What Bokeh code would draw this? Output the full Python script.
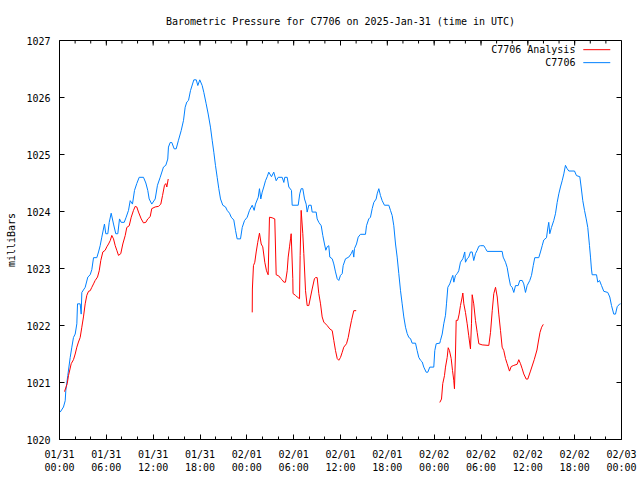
from bokeh.plotting import figure
from bokeh.models import Range1d, FixedTicker, Label
from bokeh.embed import file_html
from bokeh.resources import INLINE
import numpy as np

# hours since 2025-01-31 00:00 UTC
obs_hours = [0.09, 0.51, 0.73, 0.81, 1.06, 1.37, 1.58, 1.79, 2.01, 2.22, 2.31, 2.65, 2.78, 2.86, 3.29, 3.63, 3.93, 4.14, 4.36, 4.78,
             5.00, 5.21, 5.42, 5.76, 5.93, 6.19, 6.37, 6.62, 6.92, 7.21, 7.47, 7.69, 7.90, 8.29, 8.54, 8.84, 9.06, 9.35, 9.61, 9.90,
             10.21, 10.76, 11.06, 11.31, 11.49, 11.82, 12.26, 12.55, 12.90, 13.32, 13.62, 13.87, 13.96, 14.18, 14.39, 14.69, 14.95, 15.24, 15.59, 15.89,
             16.10, 16.31, 16.53, 16.78, 17.21, 17.52, 17.72, 17.97, 18.28, 18.49, 18.79, 19.05, 19.34, 19.56, 19.77, 19.98, 20.20, 20.41, 20.63, 20.92,
             21.27, 21.48, 21.78, 22.00, 22.33, 22.55, 22.76, 23.19, 23.41, 23.70, 24.05, 24.34, 24.69, 24.94, 25.11, 25.46, 25.62, 25.79, 25.97, 26.17,
             26.39, 26.61, 26.81, 27.16, 27.45, 27.76, 28.02, 28.53, 28.74, 28.86, 29.17, 29.38, 29.72, 29.81, 30.58, 30.78, 30.96, 31.17, 31.39, 31.60,
             31.73, 31.94, 32.24, 32.37, 32.88, 33.01, 33.22, 33.53, 33.73, 33.95, 34.12, 34.29, 34.50, 34.63, 34.94, 35.14, 35.36, 35.58, 35.78, 36.00,
             36.22, 36.34, 36.64, 37.06, 37.37, 37.57, 37.70, 37.79, 38.05, 38.27, 38.56, 39.20, 39.33, 39.62, 39.84, 40.06, 40.27, 40.57, 40.70, 40.91,
             41.12, 41.34, 41.63, 42.19, 42.40, 42.62, 42.83, 43.05, 43.26, 43.47, 43.69, 43.90, 44.11, 44.33, 44.54, 44.75, 44.97, 45.18, 45.61, 45.82,
             46.03, 46.25, 46.47, 46.67, 46.98, 47.18, 47.44, 47.95, 48.08, 48.26, 48.72, 48.81, 49.03, 49.23, 49.45, 49.58, 49.75, 50.00, 50.22, 50.39,
             50.52, 50.73, 50.95, 51.15, 51.37, 51.67, 51.92, 52.01, 52.23, 52.43, 52.65, 52.87, 53.07, 53.29, 53.51, 53.72, 53.93, 54.36, 54.58, 54.79,
             56.71, 56.84, 57.14, 57.35, 57.56, 57.78, 57.99, 58.20, 58.42, 58.76, 58.97, 59.28, 59.48, 59.70, 59.91, 60.25, 60.47, 60.69, 60.89, 61.40,
             61.62, 61.84, 62.04, 62.39, 62.56, 62.68, 62.81, 63.03, 63.32, 63.54, 63.76, 63.97, 64.18, 64.40, 64.61, 64.82, 65.04, 65.25, 65.98, 66.23,
             66.66, 66.83, 67.04, 67.26, 67.48, 67.68, 67.90, 68.03, 68.15, 68.24, 68.80, 68.96, 69.18, 69.44, 69.73, 70.24, 70.50, 70.72, 71.01, 71.23,
             71.45, 71.78, 71.87]
obs_mb = [1020.48, 1020.57, 1020.68, 1020.86, 1021.12, 1021.44, 1021.62, 1021.79, 1021.85, 1022.03, 1022.38, 1022.38, 1022.20, 1022.58, 1022.67, 1022.85, 1022.89, 1022.98, 1023.19, 1023.19,
          1023.29, 1023.40, 1023.55, 1023.78, 1023.61, 1023.61, 1023.81, 1023.97, 1023.78, 1023.61, 1023.61, 1023.87, 1023.81, 1023.81, 1023.90, 1024.02, 1024.19, 1024.13, 1024.37, 1024.49,
          1024.60, 1024.60, 1024.50, 1024.37, 1024.22, 1024.13, 1024.22, 1024.46, 1024.60, 1024.78, 1024.81, 1024.92, 1025.13, 1025.21, 1025.21, 1025.10, 1025.10, 1025.25, 1025.42, 1025.60,
          1025.83, 1025.92, 1025.95, 1026.12, 1026.31, 1026.31, 1026.21, 1026.31, 1026.21, 1026.09, 1025.89, 1025.71, 1025.48, 1025.25, 1025.04, 1024.81, 1024.60, 1024.40, 1024.22, 1024.11,
          1024.08, 1024.02, 1023.97, 1023.90, 1023.85, 1023.67, 1023.52, 1023.52, 1023.72, 1023.84, 1023.90, 1024.02, 1024.11, 1024.02, 1024.13, 1024.25, 1024.40, 1024.22, 1024.34, 1024.43,
          1024.54, 1024.61, 1024.69, 1024.61, 1024.69, 1024.54, 1024.60, 1024.60, 1024.51, 1024.60, 1024.60, 1024.43, 1024.37, 1024.11, 1024.11, 1024.31, 1024.40, 1024.40, 1024.22, 1024.13,
          1023.99, 1024.11, 1024.11, 1023.99, 1023.99, 1023.87, 1023.81, 1023.75, 1023.58, 1023.43, 1023.32, 1023.38, 1023.40, 1023.20, 1023.17, 1023.08, 1022.94, 1022.82, 1022.79, 1022.88,
          1022.91, 1023.05, 1023.17, 1023.20, 1023.26, 1023.32, 1023.20, 1023.35, 1023.43, 1023.55, 1023.60, 1023.60, 1023.75, 1023.87, 1023.90, 1024.05, 1024.16, 1024.22, 1024.31, 1024.40,
          1024.28, 1024.19, 1024.11, 1024.11, 1024.02, 1023.93, 1023.75, 1023.43, 1023.20, 1022.91, 1022.61, 1022.38, 1022.15, 1021.97, 1021.86, 1021.79, 1021.77, 1021.69, 1021.69, 1021.56,
          1021.44, 1021.39, 1021.36, 1021.27, 1021.18, 1021.18, 1021.27, 1021.27, 1021.56, 1021.68, 1021.69, 1021.74, 1021.85, 1022.03, 1022.18, 1022.38, 1022.67, 1022.73, 1022.82, 1022.88,
          1022.76, 1022.88, 1022.91, 1022.96, 1023.11, 1023.17, 1023.29, 1023.11, 1023.17, 1023.20, 1023.29, 1023.29, 1023.14, 1023.26, 1023.32, 1023.39, 1023.40, 1023.40, 1023.35, 1023.30,
          1023.30, 1023.20, 1023.11, 1023.02, 1022.85, 1022.70, 1022.67, 1022.58, 1022.70, 1022.70, 1022.79, 1022.79, 1022.73, 1022.58, 1022.70, 1022.79, 1022.88, 1023.05, 1023.19, 1023.19,
          1023.29, 1023.40, 1023.50, 1023.54, 1023.71, 1023.81, 1023.61, 1023.72, 1023.84, 1023.96, 1024.16, 1024.31, 1024.43, 1024.54, 1024.66, 1024.81, 1024.75, 1024.71, 1024.71, 1024.63,
          1024.61, 1024.43, 1024.19, 1024.02, 1023.87, 1023.72, 1023.40, 1023.20, 1022.99, 1022.89, 1022.89, 1022.76, 1022.79, 1022.70, 1022.60, 1022.58, 1022.50, 1022.35, 1022.20, 1022.20,
          1022.33, 1022.38, 1022.38]

# analysis series, three separate runs
ana1_hours = [0.64, 0.99, 1.15, 1.50, 1.79, 2.01, 2.22, 2.43, 2.65, 2.86, 3.07, 3.29, 3.50, 3.72, 3.93, 4.14, 4.36, 4.57, 4.87, 5.09,
              5.29, 5.55, 5.85, 6.06, 6.28, 6.50, 6.70, 6.92, 7.14, 7.34, 7.56, 7.85, 8.11, 8.42, 8.62, 8.93, 9.19, 9.48, 9.70, 9.90,
              10.12, 10.47, 10.76, 11.06, 11.31, 11.62, 11.82, 12.26, 12.68, 12.98, 13.20, 13.45, 13.62, 13.75, 13.93]
ana1_mb = [1020.84, 1020.98, 1021.12, 1021.33, 1021.40, 1021.50, 1021.62, 1021.71, 1021.79, 1021.97, 1022.15, 1022.38, 1022.53, 1022.60, 1022.61, 1022.67, 1022.73, 1022.79, 1022.85, 1022.96,
           1023.14, 1023.29, 1023.32, 1023.38, 1023.43, 1023.49, 1023.58, 1023.52, 1023.40, 1023.32, 1023.23, 1023.26, 1023.43, 1023.58, 1023.72, 1023.75, 1023.90, 1024.02, 1024.09, 1024.08,
           1023.99, 1023.87, 1023.80, 1023.81, 1023.87, 1023.91, 1024.05, 1024.08, 1024.09, 1024.13, 1024.28, 1024.46, 1024.49, 1024.43, 1024.57]
ana2_hours = [24.69, 24.71, 24.85, 25.02, 25.20, 25.40, 25.62, 25.84, 26.04, 26.30, 26.52, 26.73, 26.90, 27.24, 27.58, 27.76, 28.09, 28.31, 28.53, 28.74,
              28.95, 29.17, 29.30, 29.47, 29.60, 29.68, 29.89, 29.92, 30.23, 30.45, 30.75, 30.83, 30.96, 31.17, 31.30, 31.52, 31.73, 31.94, 32.16, 32.37,
              32.66, 32.79, 33.01, 33.22, 33.44, 33.65, 33.86, 34.29, 34.63, 34.94, 35.14, 35.36, 35.58, 35.78, 36.00, 36.22, 36.42, 36.77, 36.99, 37.19,
              37.41, 37.70, 38.01]
ana2_mb = [1022.23, 1022.64, 1023.05, 1023.11, 1023.29, 1023.46, 1023.62, 1023.43, 1023.38, 1023.11, 1022.96, 1022.89, 1023.90, 1023.89, 1023.87, 1022.89, 1022.87, 1022.83, 1022.80, 1022.76,
           1022.76, 1022.96, 1023.20, 1023.38, 1023.52, 1023.61, 1022.82, 1022.56, 1022.53, 1022.50, 1022.47, 1023.23, 1024.02, 1023.61, 1023.26, 1022.61, 1022.35, 1022.35, 1022.50, 1022.64,
           1022.82, 1022.84, 1022.84, 1022.56, 1022.38, 1022.15, 1022.06, 1022.00, 1021.94, 1021.91, 1021.74, 1021.56, 1021.42, 1021.39, 1021.44, 1021.53, 1021.62, 1021.68, 1021.79, 1021.94,
           1022.09, 1022.26, 1022.26]
ana3_hours = [48.72, 48.94, 49.10, 49.32, 49.45, 49.67, 49.80, 49.96, 50.18, 50.35, 50.51, 50.60, 50.73, 50.82, 51.02, 51.20, 51.37, 51.59, 51.67, 51.80,
              52.01, 52.23, 52.43, 52.65, 52.78, 52.87, 53.07, 53.29, 53.51, 53.72, 54.15, 55.00, 55.22, 55.44, 55.64, 55.86, 56.08, 56.28, 56.50, 56.71,
              56.92, 57.14, 57.35, 57.65, 57.87, 58.20, 58.63, 58.84, 59.06, 59.28, 59.48, 59.79, 59.99, 60.34, 60.82, 61.17, 61.34, 61.56, 61.77, 61.98]
ana3_mb = [1020.65, 1020.71, 1020.98, 1021.12, 1021.27, 1021.44, 1021.61, 1021.56, 1021.42, 1021.21, 1021.04, 1020.89, 1021.50, 1022.09, 1022.09, 1022.20, 1022.35, 1022.50, 1022.57, 1022.38,
           1022.23, 1022.03, 1021.82, 1021.59, 1022.03, 1022.54, 1022.38, 1022.09, 1021.88, 1021.68, 1021.66, 1021.65, 1021.88, 1022.26, 1022.56, 1022.67, 1022.50, 1022.20, 1021.91, 1021.62,
           1021.56, 1021.42, 1021.33, 1021.20, 1021.28, 1021.30, 1021.32, 1021.40, 1021.33, 1021.24, 1021.15, 1021.06, 1021.06, 1021.20, 1021.40, 1021.57, 1021.71, 1021.88, 1021.97, 1022.02]

tick_hours = [0, 6, 12, 18, 24, 30, 36, 42, 48, 54, 60, 66, 72]
tick_labels = ["01/31\n00:00", "01/31\n06:00", "01/31\n12:00", "01/31\n18:00",
               "02/01\n00:00", "02/01\n06:00", "02/01\n12:00", "02/01\n18:00",
               "02/02\n00:00", "02/02\n06:00", "02/02\n12:00", "02/02\n18:00", "02/03\n00:00"]
minor_hours = [h for h in range(0, 73, 2)]
y_ticks = [1020, 1021, 1022, 1023, 1024, 1025, 1026, 1027]

title_text = "Barometric Pressure for C7706 on 2025-Jan-31 (time in UTC)"
series_names = ["C7706 Analysis", "C7706"]
RED = "#ff0000"
BLUE = "#0080ff"
FONT = "DejaVu Sans Mono"
FS = "10px"

X0, X1 = 0, 72
Y0, Y1 = 1020, 1027
p = figure(width=640, height=480, output_backend="svg", toolbar_location=None,
           x_range=Range1d(X0, X1), y_range=Range1d(Y0, Y1),
           min_border_left=59, min_border_right=19, min_border_top=40, min_border_bottom=41)
p.grid.visible = False
p.outline_line_color = "black"
p.outline_line_width = 1
p.background_fill_color = "white"
p.border_fill_color = "white"

p.title.text = title_text
p.title.align = "center"
p.title.text_font = FONT
p.title.text_font_size = FS
p.title.text_font_style = "normal"
p.title.text_color = "black"
p.title.standoff = 27

# analysis: join the three runs with NaN gaps
ana_x = ana1_hours + [np.nan] + ana2_hours + [np.nan] + ana3_hours
ana_y = ana1_mb + [np.nan] + ana2_mb + [np.nan] + ana3_mb
p.line(obs_hours, obs_mb, line_color=BLUE, line_width=1)
p.line(ana_x, ana_y, line_color=RED, line_width=1)

xa = p.xaxis[0]
xa.ticker = FixedTicker(ticks=tick_hours, minor_ticks=minor_hours)
xa.major_label_overrides = {h: lab for h, lab in zip(tick_hours, tick_labels)}
ya = p.yaxis[0]
ya.ticker = FixedTicker(ticks=y_ticks)
ya.axis_label = "milliBars"

for ax in (xa, ya):
    ax.major_tick_in = 5
    ax.major_tick_out = 0
    ax.minor_tick_in = 3
    ax.minor_tick_out = 0
    ax.major_label_text_font = FONT
    ax.major_label_text_font_size = FS
    ax.major_label_text_color = "black"
    ax.axis_label_text_font = FONT
    ax.axis_label_text_font_size = FS
    ax.axis_label_text_font_style = "normal"
    ax.axis_label_text_color = "black"
    ax.axis_line_color = None
    ax.major_tick_line_color = "black"
    ax.minor_tick_line_color = "black"
ya.minor_tick_line_color = None
xa.major_label_standoff = 9
ya.major_label_standoff = 9
ya.axis_label_standoff = 6

# mirrored inward ticks on the top and right frame edges (screen-length rays)
p.ray(x=tick_hours, y=[Y1] * len(tick_hours), length=5, length_units="screen",
      angle=-np.pi / 2, line_color="black", line_width=1)
p.ray(x=minor_hours, y=[Y1] * len(minor_hours), length=3, length_units="screen",
      angle=-np.pi / 2, line_color="black", line_width=1)
p.ray(x=[X1] * len(y_ticks), y=y_ticks, length=5, length_units="screen",
      angle=np.pi, line_color="black", line_width=1)

# gnuplot-style key (text right-aligned, then line sample), placed relative to the ranges
key_text_x = X1 - 0.082 * (X1 - X0)
key_line_x0 = X1 - 0.068 * (X1 - X0)
key_line_x1 = X1 - 0.020 * (X1 - X0)
for i, (name, col) in enumerate(zip(series_names, [RED, BLUE])):
    yy = Y1 - (0.023 + 0.0325 * i) * (Y1 - Y0)
    p.add_layout(Label(x=key_text_x, y=yy, text=name,
                       text_align="right", text_baseline="middle", text_font=FONT,
                       text_font_size=FS, text_color="black"))
    p.segment(x0=[key_line_x0], y0=[yy], x1=[key_line_x1], y1=[yy], line_color=col, line_width=1)

open("out.html", "w").write(file_html(p, INLINE))
